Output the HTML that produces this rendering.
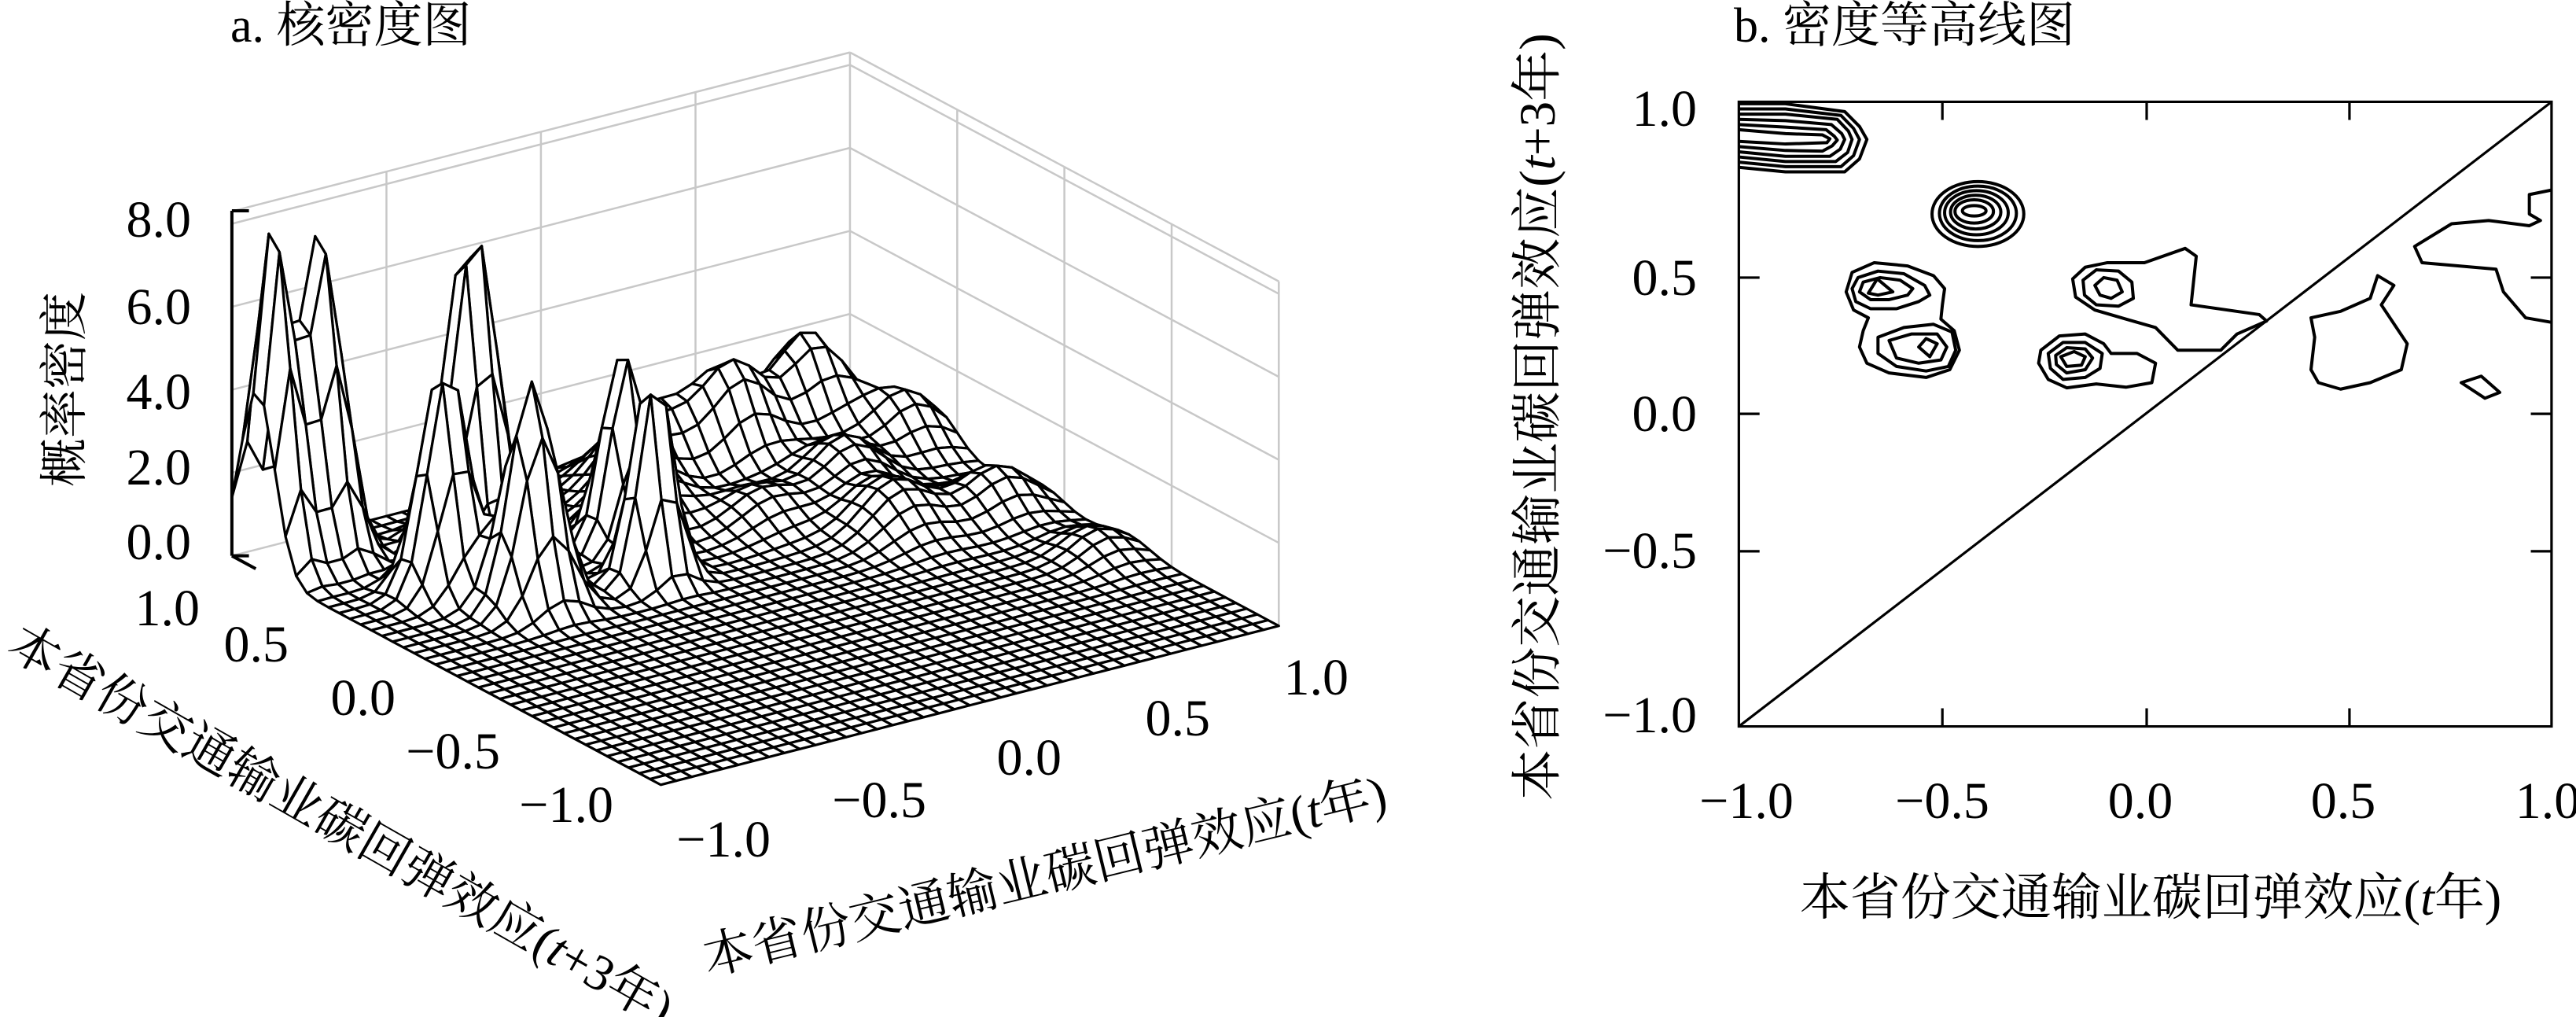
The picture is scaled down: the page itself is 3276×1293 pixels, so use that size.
<!DOCTYPE html>
<html><head><meta charset="utf-8"><style>
html,body{margin:0;padding:0;background:#fff;overflow:hidden;}
svg{display:block;}
text{font-family:"Liberation Serif","Noto Serif CJK SC","Noto Sans CJK SC",serif;fill:#000;}
.ns{vector-effect:non-scaling-stroke;}
</style></head><body>
<svg id="s" width="3276" height="1293" viewBox="0 0 3276 1293" xmlns="http://www.w3.org/2000/svg">
<rect width="3276" height="1293" fill="#fff"/>
<g transform="scale(1.0842,0.8246)">
 <g id="walls" stroke="#c8c8c8" stroke-width="2.5" fill="none"></g>
 <g id="mesh" stroke="#000" stroke-width="3.2" fill="#fff" stroke-linejoin="round"></g>
 <line class="ns" x1="272" y1="325" x2="272" y2="857" stroke="#000" stroke-width="4"/>
 <path class="ns" d="M272 325h20M272 857h20M272 857L300 877" stroke="#000" stroke-width="4" fill="none"/>
</g>
<text x="293" y="53" font-size="62">a. 核密度图</text>
<g font-size="66" text-anchor="end">
 <text x="243" y="301">8.0</text><text x="243" y="412">6.0</text><text x="243" y="520">4.0</text><text x="243" y="616">2.0</text><text x="243" y="711">0.0</text>
 <text x="254" y="795">1.0</text><text x="367" y="841">0.5</text><text x="503" y="909">0.0</text><text x="636" y="977">−0.5</text><text x="780" y="1045">−1.0</text>
 <text x="980" y="1089">−1.0</text><text x="1178" y="1039">−0.5</text><text x="1350" y="985">0.0</text><text x="1539" y="935">0.5</text><text x="1715" y="883">1.0</text>
</g>
<text transform="translate(103,495) rotate(-90)" font-size="62" text-anchor="middle">概率密度</text>
<text transform="translate(6,830) rotate(29.7)" font-size="64">本省份交通输业碳回弹效应(<tspan font-style="italic">t</tspan>+3年)</text>
<text transform="translate(900,1240) rotate(-13.7)" font-size="64">本省份交通输业碳回弹效应(<tspan font-style="italic">t</tspan>年)</text>

<g transform="translate(1800,0) scale(0.9413,0.8246)">
 <g stroke="#000" stroke-width="3.2" fill="none">
  <rect class="ns" x="437" y="157" width="1098" height="963"/>
  <line class="ns" x1="437" y1="1120" x2="1535" y2="157"/>
  <path class="ns" d="M712 1120v-28M988 1120v-28M1262 1120v-28M712 157v28M988 157v28M1262 157v28M437 428h28M437 638h28M437 850h28M1535 428h-28M1535 638h-28M1535 850h-28"/>
 </g>
 <g stroke="#000" stroke-width="4" fill="none" stroke-linejoin="round">
  <path class="ns" d="M437 160 L500 160 L580 172 L600 195 L610 215 L600 245 L580 265 L500 265 L437 258"/>
  <path class="ns" d="M437 168 L500 168 L575 178 L592 198 L600 215 L592 240 L575 257 L500 257 L437 250"/>
  <path class="ns" d="M437 176 L500 176 L570 184 L585 202 L590 215 L584 235 L568 249 L500 249 L437 242"/>
  <path class="ns" d="M437 184 L500 186 L562 192 L576 206 L580 215 L574 230 L560 241 L500 241 L437 234"/>
  <path class="ns" d="M437 192 L500 196 L555 200 L566 210 L570 216 L563 225 L550 233 L500 232 L437 226"/>
  <path class="ns" d="M437 200 L500 206 L550 208 L560 214 L556 220 L500 222 L437 218"/>
  <ellipse class="ns" cx="760" cy="330" rx="62" ry="50"/>
  <ellipse class="ns" cx="760" cy="329" rx="52" ry="42"/>
  <ellipse class="ns" cx="758" cy="328" rx="43" ry="34"/>
  <ellipse class="ns" cx="757" cy="327" rx="34" ry="26"/>
  <ellipse class="ns" cx="755" cy="326" rx="26" ry="18"/>
  <ellipse class="ns" cx="755" cy="325" rx="16" ry="8"/>
  <path class="ns" d="M590 420 L620 405 L665 410 L700 425 L715 445 L712 470 L710 492 L728 510 L735 540 L722 570 L690 582 L640 575 L610 560 L600 535 L605 510 L612 490 L592 478 L582 450 Z"/>
  <path class="ns" d="M598 428 L625 418 L660 422 L688 440 L695 455 L680 465 L650 476 L615 476 L595 465 L590 445 Z"/>
  <path class="ns" d="M605 435 L628 428 L655 432 L672 445 L665 455 L640 462 L615 462 L600 450 Z"/>
  <path class="ns" d="M612 452 L624 430 L645 450 L625 455 Z"/>
  <path class="ns" d="M625 520 L660 505 L700 500 L725 512 L730 540 L720 565 L690 572 L650 565 L625 545 Z"/>
  <path class="ns" d="M640 525 L670 515 L705 515 L718 535 L710 555 L680 560 L650 552 Z"/>
  <path class="ns" d="M680 535 L690 522 L705 530 L695 550 Z"/>
  <path class="ns" d="M888 430 L905 412 L935 405 L985 405 L1040 383 L1055 395 L1048 470 L1140 485 L1150 495 L1110 515 L1088 540 L1030 540 L1000 505 L960 492 L918 478 L892 458 Z"/>
  <path class="ns" d="M902 432 L920 416 L950 418 L968 435 L970 460 L950 472 L920 470 L904 455 Z"/>
  <path class="ns" d="M918 440 L930 428 L948 432 L955 450 L940 460 L925 455 Z"/>
  <path class="ns" d="M845 540 L870 518 L905 515 L930 530 L940 545 L975 545 L1000 560 L995 590 L960 597 L920 592 L880 598 L855 585 L842 560 Z"/>
  <path class="ns" d="M855 545 L875 528 L905 528 L928 545 L925 568 L905 582 L875 585 L858 568 Z"/>
  <path class="ns" d="M865 548 L880 536 L905 538 L915 552 L905 570 L880 575 L866 562 Z"/>
  <path class="ns" d="M872 550 L890 542 L905 550 L900 563 L880 565 Z"/>
  <path class="ns" d="M1535 293 L1505 300 L1505 330 L1520 340 L1505 348 L1450 340 L1400 345 L1350 380 L1360 405 L1410 410 L1460 415 L1470 450 L1500 490 L1535 497"/>
  <path class="ns" d="M1210 490 L1250 480 L1290 460 L1300 425 L1322 440 L1305 470 L1340 530 L1332 570 L1290 590 L1250 600 L1220 590 L1210 570 L1215 520 Z"/>
  <path class="ns" d="M1413 590 L1440 580 L1465 605 L1445 614 Z"/>
 </g>
</g>
<text x="2205" y="53" font-size="62">b. 密度等高线图</text>
<g font-size="66" text-anchor="end">
 <text x="2158" y="160">1.0</text><text x="2158" y="375">0.5</text><text x="2158" y="548">0.0</text><text x="2158" y="722">−0.5</text><text x="2158" y="931">−1.0</text>
</g>
<g font-size="66" text-anchor="middle">
 <text x="2221" y="1040">−1.0</text><text x="2470" y="1040">−0.5</text><text x="2722" y="1040">0.0</text><text x="2980" y="1040">0.5</text><text x="3240" y="1040">1.0</text>
</g>
<text x="2735" y="1163" font-size="64" text-anchor="middle">本省份交通输业碳回弹效应(<tspan font-style="italic">t</tspan>年)</text>
<text transform="translate(1977,530) rotate(-90)" font-size="65" text-anchor="middle">本省份交通输业碳回弹效应(<tspan font-style="italic">t</tspan>+3年)</text>
</svg>
<script>
(function(){
var F=[775,1210],R=[1500,965],Lc=[272,857],ZS=64;
function P(x,y,z){var a=(x+1)/2,b=(y+1)/2;return [F[0]+a*(R[0]-F[0])+b*(Lc[0]-F[0]),F[1]+a*(R[1]-F[1])+b*(Lc[1]-F[1])-z*ZS];}
function g(x,y,cx,cy,sx,sy,A){var dx=(x-cx)/sx,dy=(y-cy)/sy;return A*Math.exp(-0.5*(dx*dx+dy*dy));}
function f(x,y){var z=0;
z+=g(x,y,-0.95,0.88,0.045,0.08,8.0);
z+=g(x,y,-0.8,0.88,0.055,0.08,7.8);
z+=g(x,y,-0.42,0.72,0.07,0.065,7.8);
z+=g(x,y,-0.68,0.47,0.065,0.065,5.6);
z+=g(x,y,-0.55,0.25,0.07,0.07,5.4);
z+=g(x,y,-0.1,0.47,0.055,0.065,4.6);
z+=g(x,y,-0.18,0.22,0.055,0.055,5.2);
z+=g(x,y,0.2,0.8,0.12,0.1,1.8);
z+=g(x,y,0.45,0.75,0.1,0.1,2.4);
z+=g(x,y,0.72,0.8,0.1,0.1,2.6);
z+=g(x,y,0.9,0.6,0.1,0.1,1.4);
z+=g(x,y,0.6,0.45,0.1,0.1,1.3);
z+=g(x,y,0.55,0.15,0.1,0.12,1.2);
z+=g(x,y,0.85,0.1,0.1,0.1,1.1);
z+=g(x,y,0.9,-0.3,0.08,0.1,0.6);
z+=g(x,y,0.05,0.6,0.1,0.1,1.2);
z+=g(x,y,0.3,0.4,0.1,0.1,0.8);
return z;}
var w=document.getElementById("walls"),s="";
function ln(p,q){s+="M"+p[0].toFixed(1)+" "+p[1].toFixed(1)+"L"+q[0].toFixed(1)+" "+q[1].toFixed(1);}
for(var i=0;i<=4;i++){var t=-1+i*0.5;ln(P(t,1,0),P(t,1,8.3));ln(P(1,t,0),P(1,t,8.3));}
for(var k=0;k<=8;k+=2){ln(P(-1,1,k),P(1,1,k));ln(P(1,1,k),P(1,-1,k));}
ln(P(-1,1,8.3),P(1,1,8.3));ln(P(1,1,8.3),P(1,-1,8.3));
w.innerHTML='<path class="ns" d="'+s+'"/>';
var N=40,m=document.getElementById("mesh"),Z=[];
for(var i=0;i<=N;i++){Z[i]=[];for(var j=0;j<=N;j++){Z[i][j]=f(-1+2*i/N,-1+2*j/N);}}
var quads=[];
for(var i=0;i<N;i++)for(var j=0;j<N;j++)quads.push([i,j]);
quads.sort(function(a,b){return (b[0]+b[1])-(a[0]+a[1])||(a[0]-a[1])-(b[0]-b[1]);});
var out="";
quads.forEach(function(q){var i=q[0],j=q[1];
var pts=[[i,j],[i+1,j],[i+1,j+1],[i,j+1]].map(function(c){var p=P(-1+2*c[0]/N,-1+2*c[1]/N,Z[c[0]][c[1]]);return p[0].toFixed(1)+","+p[1].toFixed(1);});
out+='<polygon class="ns" points="'+pts.join(" ")+'"/>';});
m.innerHTML=out;
})();
</script>
</body></html>
